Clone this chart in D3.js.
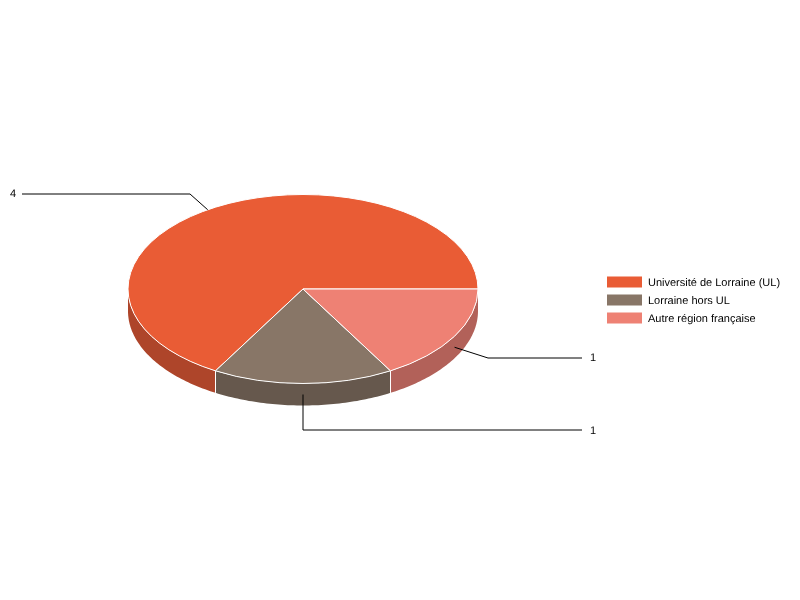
<!DOCTYPE html>
<html><head><meta charset="utf-8">
<style>html,body{margin:0;padding:0;background:#fff}svg{display:block;will-change:transform;opacity:.999}text{font-family:"Liberation Sans",Arial,sans-serif;font-size:11px;fill:#000;text-rendering:geometricPrecision}</style>
<script src="https://cdn.jsdelivr.net/npm/d3@7"></script></head><body>
<script>
const categories = ["Université de Lorraine (UL)", "Lorraine hors UL", "Autre région française"];
const values = [4, 1, 1];
const topColors = ["#E95C35", "#887667", "#EE8174"];
const sideColors = ["#AE452A", "#66584D", "#B26159"];

const W = 800, H = 600, cx = 303, cy = 289, rx = 175, ry = 94.5, depth = 22;
const svg = d3.select("body").append("svg").attr("width", W).attr("height", H);

// Anticlockwise from the east point, as in the reference
const arcs = d3.pie().sort(null).startAngle(Math.PI / 2).endAngle(Math.PI / 2 - 2 * Math.PI)(values);
const px = a => cx + rx * Math.sin(a), py = a => cy - ry * Math.cos(a);

// Walls: only the front half (d3 angle between 90 and 270 degrees, modulo a turn) is visible
const norm = a => ((a % (2 * Math.PI)) + 2 * Math.PI) % (2 * Math.PI);
const wall = svg.append("g");
arcs.forEach((d, i) => {
  let a0 = d.startAngle, a1 = d.endAngle;
  const hi = Math.max(a0, a1), lo = Math.min(a0, a1);
  [-2 * Math.PI, 0, 2 * Math.PI].forEach(t => {
    const s = Math.max(lo, Math.PI / 2 + t), e = Math.min(hi, 3 * Math.PI / 2 + t);
    if (e <= s) return;
    const ang = d3.range(0, 61).map(k => s + (e - s) * k / 60);
    const line = d3.line();
    const outline = ang.map(a => [px(a), py(a)]).concat(ang.slice().reverse().map(a => [px(a), py(a) + depth]));
    wall.append("path").attr("d", line(outline) + "Z").attr("fill", sideColors[i]);
    [s, e].forEach(a => {
      if (Math.abs(norm(a) - Math.PI / 2) < 1e-6 || Math.abs(norm(a) - 3 * Math.PI / 2) < 1e-6) return;
      wall.append("line").attr("x1", px(a)).attr("x2", px(a)).attr("y1", py(a)).attr("y2", py(a) + depth)
        .attr("stroke", "#fff").attr("stroke-width", 1);
    });
  });
});

// Top face
const arc = d3.arc().innerRadius(0).outerRadius(rx);
svg.append("g").attr("transform", `translate(${cx},${cy}) scale(1,${ry / rx})`)
  .selectAll("path").data(arcs).join("path")
  .attr("d", arc)
  .attr("fill", (d, i) => topColors[i])
  .attr("stroke", "#fff").attr("stroke-width", 1)
  .attr("vector-effect", "non-scaling-stroke")
  .attr("stroke-linejoin", "round");

// Leader lines
const deg = Math.PI / 180;
const leaders = [
  { a: -33 * deg, wall: 0, elbow: [190, 194], end: 22, tx: 10, ty: 197 },
  { a: 180 * deg, wall: 1, elbow: [303, 430], end: 582, tx: 590, ty: 434 },
  { a: 120 * deg, wall: 1, elbow: [488, 358], end: 582, tx: 590, ty: 361 }
];
const lg = svg.append("g");
leaders.forEach((l, i) => {
  const pts = [[px(l.a), py(l.a) + l.wall * depth / 2], l.elbow, [l.end, l.elbow[1]]];
  lg.append("path").attr("d", d3.line()(pts)).attr("fill", "none").attr("stroke", "#000").attr("stroke-width", 1);
  lg.append("text").attr("x", l.tx).attr("y", l.ty).text(values[i]);
});

// Legend
const legendY = d3.scalePoint().domain(categories).range([282, 318]);
const lgd = svg.append("g").selectAll("g").data(categories).join("g")
  .attr("transform", d => `translate(0,${legendY(d)})`);
lgd.append("rect").attr("x", 607).attr("y", -5.5).attr("width", 35).attr("height", 11)
  .attr("fill", (d, i) => topColors[i]);
lgd.append("text").attr("x", 648).attr("y", 4).text(d => d);
</script></body></html>
